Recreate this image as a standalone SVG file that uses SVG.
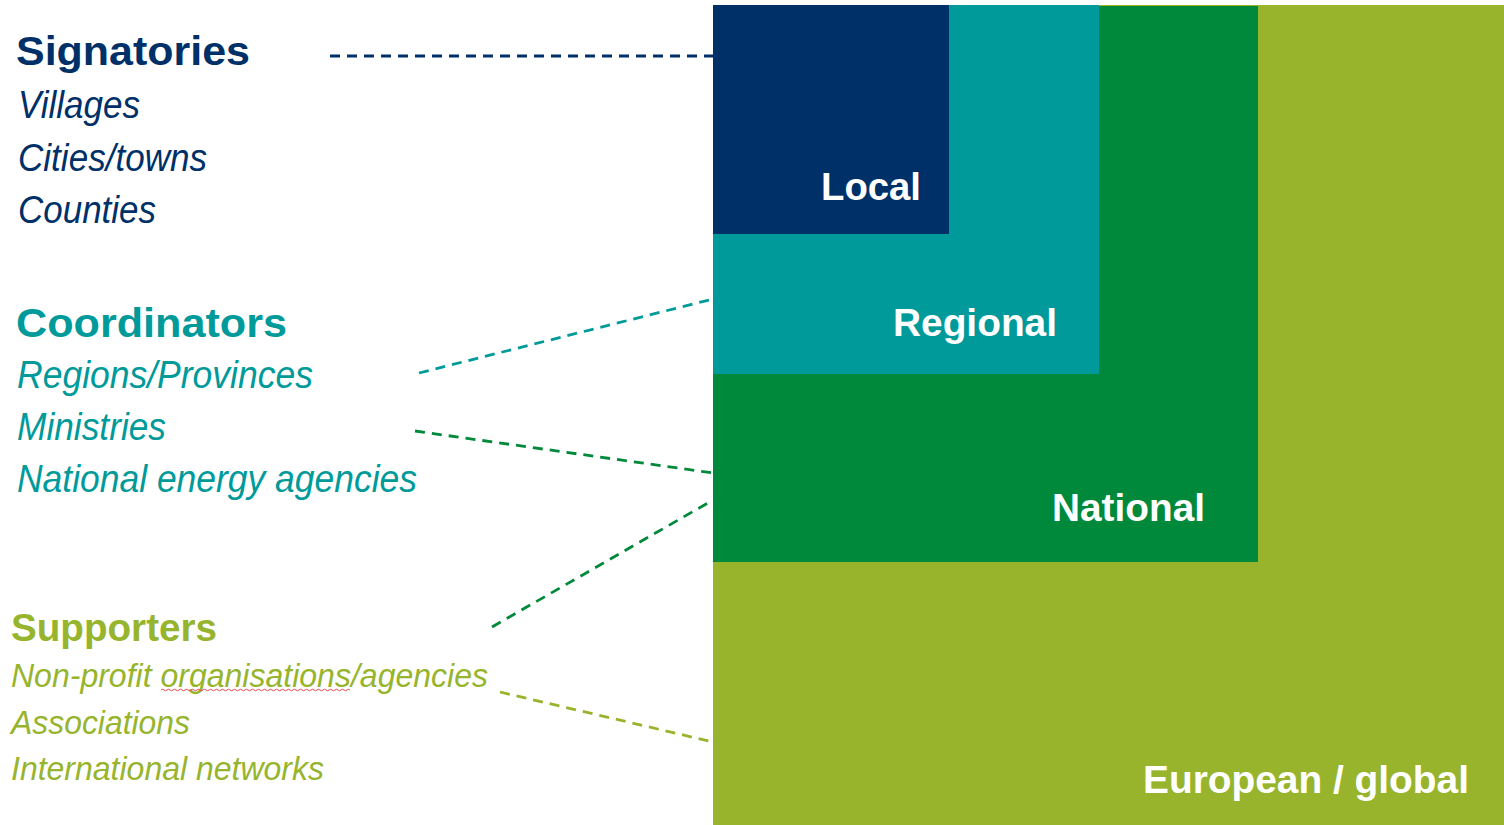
<svg xmlns="http://www.w3.org/2000/svg" width="1504" height="825" viewBox="0 0 1504 825">
<style>
text{font-family:"Liberation Sans",Arial,sans-serif}
.h{font-weight:700}
.i{font-style:italic}
.w{fill:#fff;font-weight:700;font-size:38px}
.navy{fill:#003068}
.teal{fill:#009A9A}
.lime{fill:#97B42D}
.dash{fill:none;stroke-width:2.8;stroke-dasharray:10 7}
</style>
<rect width="1504" height="825" fill="#fff"/>
<g id="european"><rect x="713" y="5" width="791" height="820" fill="#98B42D"/><text class="w" x="1143" y="793" textLength="326" lengthAdjust="spacingAndGlyphs">European / global</text></g>
<g id="national"><rect x="713" y="6" width="545" height="556" fill="#00893B"/><text class="w" x="1052" y="521" textLength="153" lengthAdjust="spacingAndGlyphs">National</text></g>
<g id="regional"><rect x="713" y="5" width="386" height="369" fill="#009A9A"/><text class="w" x="893" y="336" textLength="164" lengthAdjust="spacingAndGlyphs">Regional</text></g>
<g id="local"><rect x="713" y="5" width="236" height="229" fill="#003068"/><text class="w" x="821" y="200" textLength="100" lengthAdjust="spacingAndGlyphs">Local</text></g>
<g id="signatories" class="navy">
<text class="h" x="16" y="65" font-size="41" textLength="234" lengthAdjust="spacingAndGlyphs">Signatories</text>
<text class="i" x="18" y="118" font-size="38" textLength="122" lengthAdjust="spacingAndGlyphs">Villages</text>
<text class="i" x="18" y="171" font-size="38" textLength="189" lengthAdjust="spacingAndGlyphs">Cities/towns</text>
<text class="i" x="18" y="223" font-size="38" textLength="138" lengthAdjust="spacingAndGlyphs">Counties</text>
</g>
<g id="coordinators" class="teal">
<text class="h" x="16" y="337" font-size="41" textLength="271" lengthAdjust="spacingAndGlyphs">Coordinators</text>
<text class="i" x="17" y="388" font-size="38" textLength="296" lengthAdjust="spacingAndGlyphs">Regions/Provinces</text>
<text class="i" x="17" y="440" font-size="38" textLength="149" lengthAdjust="spacingAndGlyphs">Ministries</text>
<text class="i" x="17" y="492" font-size="38" textLength="400" lengthAdjust="spacingAndGlyphs">National energy agencies</text>
</g>
<g id="supporters" class="lime">
<text class="h" x="11" y="641" font-size="38" textLength="206" lengthAdjust="spacingAndGlyphs">Supporters</text>
<text class="i" x="11" y="687" font-size="34" textLength="477" lengthAdjust="spacingAndGlyphs">Non-profit organisations/agencies</text>
<text class="i" x="11" y="734" font-size="34" textLength="179" lengthAdjust="spacingAndGlyphs">Associations</text>
<text class="i" x="11" y="780" font-size="34" textLength="313" lengthAdjust="spacingAndGlyphs">International networks</text>
<path d="M161 690 q1.5 -1.5 3 0 t3 0 t3 0 t3 0 t3 0 t3 0 t3 0 t3 0 t3 0 t3 0 t3 0 t3 0 t3 0 t3 0 t3 0 t3 0 t3 0 t3 0 t3 0 t3 0 t3 0 t3 0 t3 0 t3 0 t3 0 t3 0 t3 0 t3 0 t3 0 t3 0 t3 0 t3 0 t3 0 t3 0 t3 0 t3 0 t3 0 t3 0 t3 0 t3 0 t3 0 t3 0 t3 0 t3 0 t3 0 t3 0 t3 0 t3 0 t3 0 t3 0 t3 0 t3 0 t3 0 t3 0 t3 0 t3 0 t3 0 t3 0 t3 0 t3 0 t3 0 t3 0 t3 0" fill="none" stroke="#E8484F" stroke-width="1"/>
</g>
<g id="connectors">
<line class="dash" x1="330" y1="56" x2="713" y2="56" stroke="#003068"/>
<line class="dash" x1="419" y1="373" x2="713" y2="299" stroke="#009A9A"/>
<line class="dash" x1="415" y1="431" x2="713" y2="473" stroke="#00893B"/>
<line class="dash" x1="492" y1="627" x2="713" y2="500" stroke="#00893B"/>
<line class="dash" x1="500" y1="692" x2="713" y2="742" stroke="#98B42D"/>
</g>
</svg>
